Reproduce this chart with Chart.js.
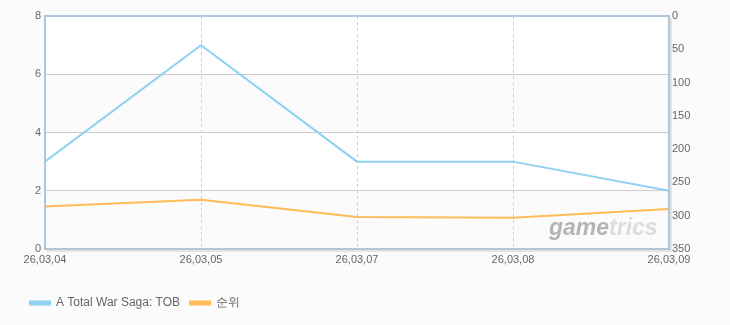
<!DOCTYPE html>
<html>
<head>
<meta charset="utf-8">
<script src="https://cdn.jsdelivr.net/npm/chart.js@4.4.1/dist/chart.umd.min.js"></script>
<style>
  html, body { margin: 0; padding: 0; background: #fbfbfb; }
  #wrap { width: 730px; height: 325px; }
</style>
</head>
<body>
<div id="wrap"><canvas id="chart" width="730" height="325"></canvas></div>
<script>
// data
const dates = ['26,03,04', '26,03,05', '26,03,07', '26,03,08', '26,03,09'];
const gameValues = [3, 7, 3, 3, 2];
const rankValues = [286, 276, 302, 303, 290];
const seriesNames = ['A Total War Saga: TOB', '순위'];

const fontFamily = '"Liberation Sans", Arial, sans-serif';

// alternating plot bands + watermark + frame
const plotDecor = {
  id: 'plotDecor',
  beforeDraw(chart) {
    const { ctx, chartArea: a, scales } = chart;
    const y = scales.y;
    ctx.save();
    for (let v = 8; v > 0; v -= 2) {
      const top = y.getPixelForValue(v);
      const bot = y.getPixelForValue(v - 2);
      ctx.fillStyle = (v / 2) % 2 === 0 ? '#ffffff' : '#fbfbfb';
      ctx.fillRect(a.left, top, a.right - a.left, bot - top);
    }
    ctx.restore();
  },
  beforeDatasetsDraw(chart) {
    const { ctx, chartArea: a } = chart;
    ctx.save();
    ctx.font = 'italic bold 23px ' + fontFamily;
    ctx.textBaseline = 'alphabetic';
    ctx.fillStyle = '#b4b4b4';
    const x0 = a.right - 120;
    const yb = a.bottom - 14;
    ctx.fillText('game', x0, yb);
    const w = ctx.measureText('game').width;
    ctx.fillStyle = '#dcdcdc';
    ctx.fillText('trics', x0 + w, yb);
    ctx.restore();
  },
  afterDraw(chart) {
    const { ctx, chartArea: a } = chart;
    ctx.save();
    ctx.strokeStyle = '#e4e4e4';
    ctx.lineWidth = 2;
    ctx.beginPath();
    ctx.moveTo(a.left + 2, a.bottom + 2);
    ctx.lineTo(a.right + 2, a.bottom + 2);
    ctx.lineTo(a.right + 2, a.top + 2);
    ctx.stroke();
    ctx.strokeStyle = '#b3c5d9';
    ctx.lineWidth = 2;
    ctx.strokeRect(a.left, a.top, a.right - a.left, a.bottom - a.top);
    ctx.restore();
  }
};

new Chart(document.getElementById('chart'), {
  type: 'line',
  data: {
    labels: dates,
    datasets: [
      {
        label: seriesNames[0],
        data: gameValues,
        yAxisID: 'y',
        borderColor: '#8fd1f2',
        backgroundColor: '#8fd1f2',
        borderWidth: 2,
        pointRadius: 0,
        tension: 0
      },
      {
        label: seriesNames[1],
        data: rankValues,
        yAxisID: 'y1',
        borderColor: '#ffbb55',
        backgroundColor: '#ffbb55',
        borderWidth: 2,
        pointRadius: 0,
        tension: 0
      }
    ]
  },
  options: {
    responsive: false,
    animation: false,
    layout: { padding: { left: 20, top: 16, right: 0, bottom: 6 } },
    plugins: {
      tooltip: { enabled: false },
      legend: {
        position: 'bottom',
        align: 'start',
        labels: {
          boxWidth: 20,
          boxHeight: 3,
          padding: 10,
          color: '#666666',
          font: { family: fontFamily, size: 12 }
        }
      }
    },
    scales: {
      x: {
        offset: false,
        grid: {
          color: '#cccccc',
          drawTicks: false
        },
        border: { display: false, dash: [3, 3] },
        ticks: {
          color: '#666666',
          font: { family: fontFamily, size: 11 },
          padding: 4,
          maxRotation: 0,
          autoSkip: false
        },
        afterFit(s) { s.height = 38; }
      },
      y: {
        position: 'left',
        min: 0,
        max: 8,
        ticks: {
          stepSize: 2,
          color: '#666666',
          font: { family: fontFamily, size: 11 },
          padding: 4
        },
        grid: { color: '#cccccc', drawTicks: false },
        border: { display: false },
        afterFit(s) { s.width = 25; }
      },
      y1: {
        position: 'right',
        min: 0,
        max: 350,
        reverse: true,
        ticks: {
          stepSize: 50,
          color: '#666666',
          font: { family: fontFamily, size: 11 },
          padding: 3
        },
        grid: { display: false, drawTicks: false },
        border: { display: false },
        afterFit(s) { s.width = 61; }
      }
    }
  },
  plugins: [plotDecor]
});
</script>
</body>
</html>
